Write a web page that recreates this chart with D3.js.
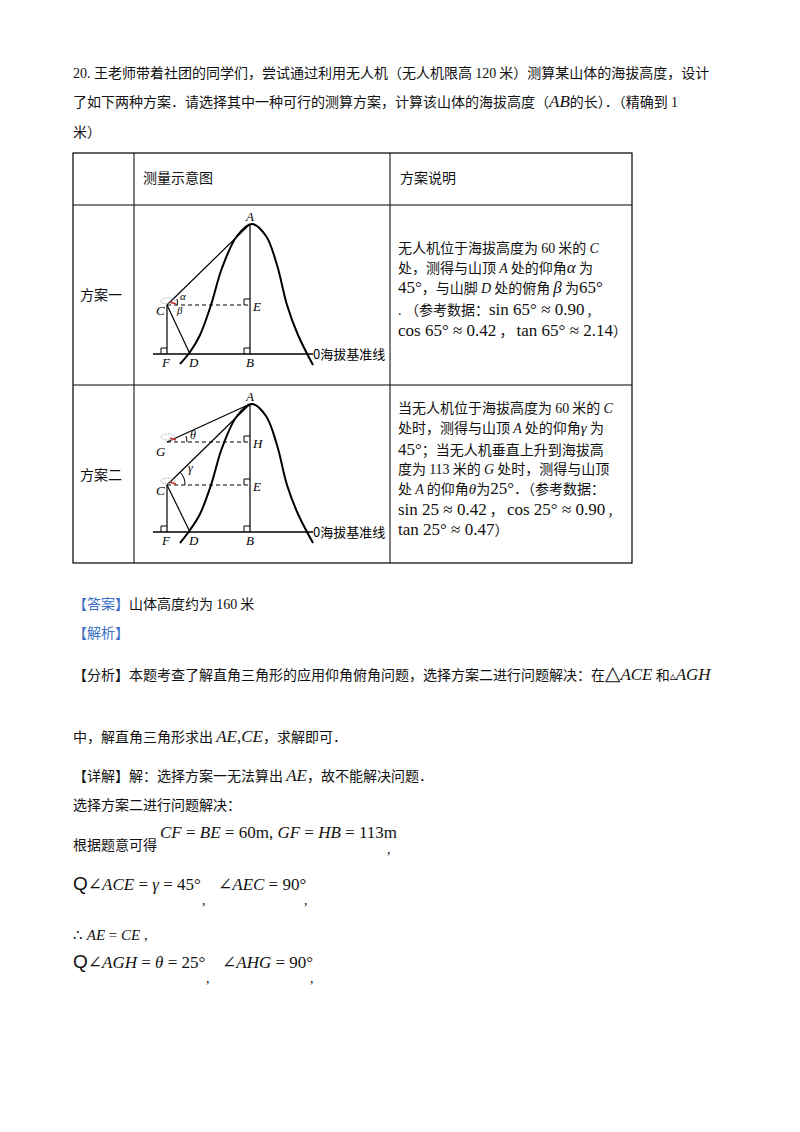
<!DOCTYPE html>
<html><head><meta charset="utf-8">
<script src="https://cdn.jsdelivr.net/npm/d3@7"></script>
<style>body{margin:0;background:#fff}</style></head>
<body><svg id="s" width="800" height="1132"></svg>
<script>
const CN = "'Noto Sans CJK SC', sans-serif";
const SER = "'Liberation Serif', 'DejaVu Serif', serif";
// table layout values
const tableCols = [73, 134, 390, 632];
const tableRows = [153, 205, 385, 563];
// figure geometry (points in pixel units within each figure)
const fig1 = {A:[250,224], B:[250,354], E:[250,305], C:[167,305], F:[167,354], D:[190,354], base:[153,313],
  curve:[[180,364],[190,352],[200,335],[211,305],[222,268],[237,236],[252,224],[266,236],[277,265],[287,305],[298,335],[313,365]]};
const fig2 = {A:[250,404], B:[250,532], E:[250,485], C:[167,485], F:[167,532], D:[190,532], G:[167,442], H:[250,442], base:[153,313],
  curve:[[180,543],[190,530],[200,514],[211,485],[222,448],[237,416],[252,404],[266,416],[277,445],[287,485],[298,514],[313,543]]};

const svg = d3.select("#s");
function line(x1,y1,x2,y2,dash,w){return svg.append("line").attr("x1",x1).attr("y1",y1).attr("x2",x2).attr("y2",y2)
  .attr("stroke","#000").attr("stroke-width",w||1.2).attr("stroke-dasharray",dash||null);}
function txt(x,y,segs,size){
  const t=svg.append("text").attr("x",x).attr("y",y).attr("font-size",size||14).attr("font-family",CN).attr("fill","#111");
  segs.forEach(s=>{ if(typeof s==="string") t.append("tspan").text(s);
    else t.append("tspan").text(s.t).attr("font-family",s.f||SER).attr("font-style",s.i?"italic":null)
      .attr("font-size",s.s||null).attr("fill",s.c||null).attr("dy",s.dy||null); });
  return t;
}
const M=(t,s)=>({t,i:false,s:s||15}); const I=(t,s)=>({t,i:true,s:s||15});

// title
txt(73,78,[M("20. ",14),"王老师带着社团的同学们，尝试通过利用无人机（无人机限高 ",M("120",14)," 米）测算某山体的海拔高度，设计"]);
txt(73,107,["了如下两种方案．请选择其中一种可行的测算方案，计算该山体的海拔高度（",I("AB",17),"的长）．（精确到 ",M("1",14)]);
txt(73,137,["米）"]);

// table
svg.append("rect").attr("x",tableCols[0]).attr("y",tableRows[0]).attr("width",tableCols[3]-tableCols[0]).attr("height",tableRows[3]-tableRows[0]).attr("fill","none").attr("stroke","#000").attr("stroke-width",1.2);
tableCols.slice(1,3).forEach(x=>line(x,tableRows[0],x,tableRows[3],null,1));
tableRows.slice(1,3).forEach(y=>line(tableCols[0],y,tableCols[3],y,null,1));
txt(143,183,["测量示意图"]); txt(400,183,["方案说明"]);
txt(80,300,["方案一"]); txt(80,480,["方案二"]);

function rightMark(x,y,dx,dy){
  svg.append("path").attr("d",`M${x+dx},${y}L${x+dx},${y+dy}L${x},${y+dy}`).attr("fill","none").attr("stroke","#000").attr("stroke-width",1);
}
function lab(x,y,t,sz){svg.append("text").attr("x",x).attr("y",y).attr("font-family",SER).attr("font-style","italic").attr("font-size",sz||13).text(t);}
function drone(x,y){svg.append("ellipse").attr("cx",x).attr("cy",y).attr("rx",7).attr("ry",3).attr("fill","none").attr("stroke","#bbb").attr("stroke-dasharray","2,1");
  line(x+2,y+1,x+8,y+3,null,1.5).attr("stroke","#c33");}
function figure(f,two){
  const mk=d3.line().curve(d3.curveCatmullRom);
  line(f.base[0],f.B[1],f.base[1],f.B[1],null,1.3);
  svg.append("path").attr("d",mk(f.curve)).attr("fill","none").attr("stroke","#000").attr("stroke-width",2);
  line(f.A[0],f.A[1],f.B[0],f.B[1]);
  line(f.C[0],f.C[1],f.F[0],f.F[1]);
  line(f.C[0],f.C[1],f.A[0],f.A[1]);
  line(f.C[0],f.C[1],f.D[0],f.D[1]);
  line(f.C[0],f.C[1],f.E[0],f.E[1],"4,3");
  rightMark(f.F[0],f.F[1],-6,-6); rightMark(f.B[0],f.B[1],-6,-6); rightMark(f.E[0],f.E[1],-6,-6);
  lab(f.A[0]-4,f.A[1]-3,"A"); lab(f.E[0]+3,f.E[1]+6,"E"); lab(f.B[0]-4,f.B[1]+13,"B");
  lab(f.F[0]-5,f.F[1]+13,"F"); lab(f.D[0]-1,f.D[1]+13,"D"); lab(f.C[0]-11,f.C[1]+10,"C");
  svg.append("text").attr("x",f.base[1]).attr("y",f.B[1]+5).attr("font-family",CN).attr("font-size",13).text("0海拔基准线");
  drone(f.C[0]+1,f.C[1]-4);
  if(!two){
    lab(f.C[0]+13,f.C[1]-5,"α",11); lab(f.C[0]+10,f.C[1]+9,"β",11);
    svg.append("path").attr("d",`M${f.C[0]+10},${f.C[1]-6} A10,10 0 0 1 ${f.C[0]+10},${f.C[1]+0}`).attr("fill","none").attr("stroke","#000");
  } else {
    line(f.G[0],f.G[1],f.A[0],f.A[1]);
    line(f.G[0],f.G[1],f.H[0],f.H[1],"4,3");
    rightMark(f.H[0],f.H[1],-6,-6);
    lab(f.H[0]+3,f.H[1]+6,"H"); lab(f.G[0]-11,f.G[1]+14,"G");
    drone(f.G[0]+1,f.G[1]-5);
    lab(f.G[0]+23,f.G[1]-3,"θ",12); lab(f.C[0]+21,f.C[1]-13,"γ",12);
    svg.append("path").attr("d",`M${f.G[0]+20},${f.G[1]} A20,20 0 0 0 ${f.G[0]+19},${f.G[1]-6}`).attr("fill","none").attr("stroke","#000");
    svg.append("path").attr("d",`M${f.C[0]+18},${f.C[1]} A18,18 0 0 0 ${f.C[0]+13},${f.C[1]-13}`).attr("fill","none").attr("stroke","#000");
  }
}
figure(fig1,false); figure(fig2,true);

// right column texts
const R=398;
txt(R,253,["无人机位于海拔高度为 ",M("60",14)," 米的 ",I("C",14)]);
txt(R,273,["处，测得与山顶 ",I("A",14)," 处的仰角",I("α",17)," 为"]);
txt(R,293,[M("45°",17),"，与山脚 ",I("D",14)," 处的俯角 ",I("β",17)," 为",M("65°",17)]);
txt(R,315,[M(". ",14),"（参考数据：",M("sin 65° ≈ 0.90",17)," ,"]);
txt(R,336,[M("cos 65° ≈ 0.42",17)," ， ",M("tan 65° ≈ 2.14",17),"）"]);

txt(R,413,["当无人机位于海拔高度为 ",M("60",14)," 米的 ",I("C",14)]);
txt(R,433,["处时，测得与山顶 ",I("A",14)," 处的仰角",I("γ",15)," 为"]);
txt(R,455,[M("45°",17),"；当无人机垂直上升到海拔高"]);
txt(R,474,["度为 ",M("113",14)," 米的 ",I("G",14)," 处时，测得与山顶"]);
txt(R,494,["处 ",I("A",14)," 的仰角",I("θ",15),"为",M("25°",17),"．（参考数据："]);
txt(R,515,[M("sin 25 ≈ 0.42",17)," ， ",M("cos 25° ≈ 0.90",17)," ,"]);
txt(R,535,[M("tan 25° ≈ 0.47",17),"）"]);

// solution text
const BL="#3a6fc4";
txt(73,609,[{t:"【答案】",f:CN,c:BL},"山体高度约为 ",M("160",14)," 米"]);
txt(73,638,[{t:"【解析】",f:CN,c:BL}]);
txt(73,680,["【分析】本题考查了解直角三角形的应用仰角俯角问题，选择方案二进行问题解决：在",M("△",20),I("ACE",17)," 和",M("▵",12),I("AGH",17)]);
txt(73,742,["中，解直角三角形求出 ",I("AE",17),M(",",17),I("CE",17),"，求解即可．"]);
txt(73,781,["【详解】解：选择方案一无法算出 ",I("AE",17),"，故不能解决问题．"]);
txt(73,810,["选择方案二进行问题解决："]);
txt(73,850,["根据题意可得"]);
txt(160,838,[I("CF",17),M(" = ",17),I("BE",17),M(" = 60m, ",17),I("GF",17),M(" = ",17),I("HB",17),M(" = 113m",17)]);
txt(387,854,[M(",",14)]);
txt(73,890,[{t:"Q",f:"'Liberation Sans', sans-serif",s:19},M("∠",17),I("ACE",17),M(" = ",17),I("γ",17),M(" = 45°",17)]);
txt(202,905,[M(",",14)]); txt(218,890,[M("∠",17),I("AEC",17),M(" = 90°",17)]); txt(304,905,[M(",",14)]);
txt(73,940,[M("∴ ",15),I("AE",15),M(" = ",15),I("CE",15),M(" ,",15)]);
txt(73,968,[{t:"Q",f:"'Liberation Sans', sans-serif",s:19},M("∠",17),I("AGH",17),M(" = ",17),I("θ",17),M(" = 25°",17)]);
txt(206,983,[M(",",14)]); txt(222,968,[M("∠",17),I("AHG",17),M(" = 90°",17)]); txt(310,983,[M(",",14)]);
</script></body></html>
